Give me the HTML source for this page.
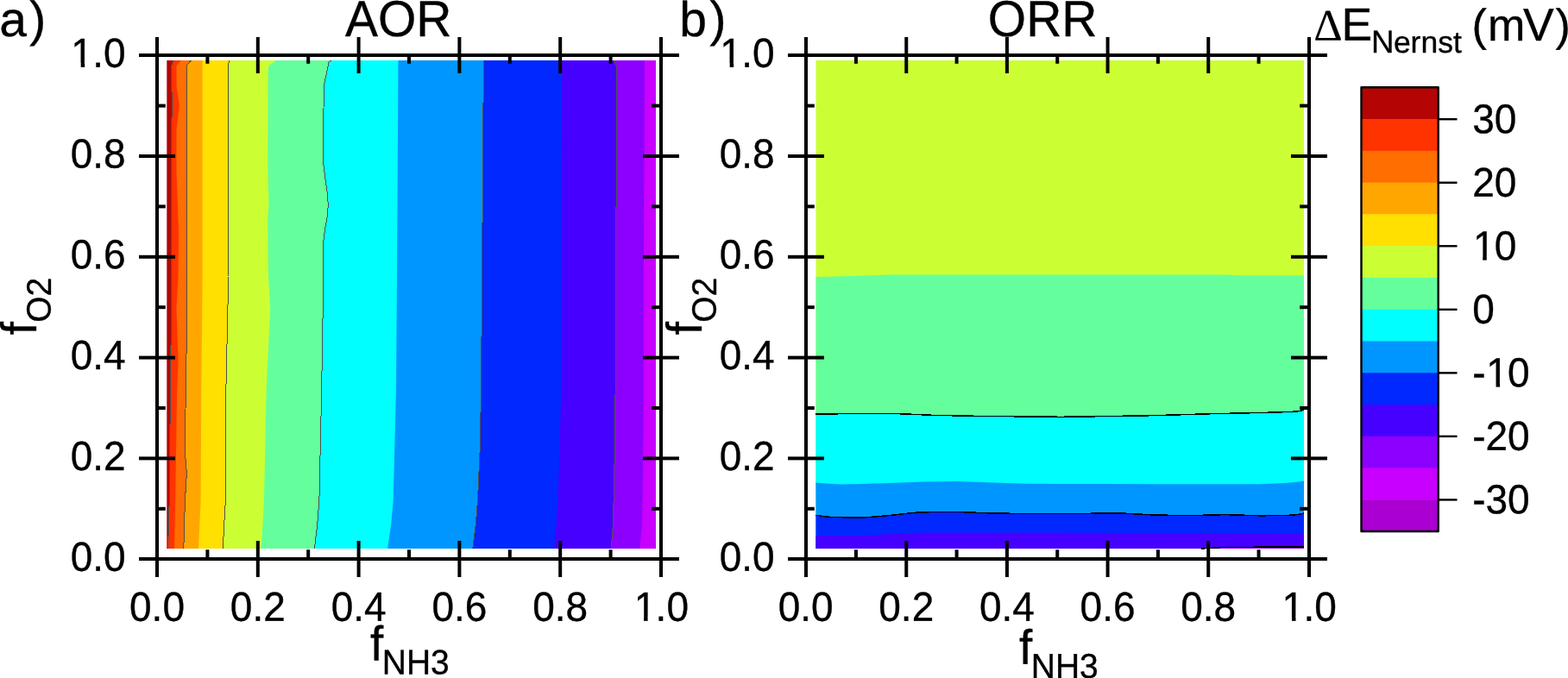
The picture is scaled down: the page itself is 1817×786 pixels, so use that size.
<!DOCTYPE html>
<html lang="en">
<head>
<meta charset="utf-8">
<title>Nernst potential contour maps: AOR and ORR</title>
<style>
html, body { margin: 0; padding: 0; background: #ffffff; }
body { width: 1817px; height: 786px; overflow: hidden; }
svg { display: block; }
text { font-kerning: none; }
</style>
</head>
<body>
<svg width="1817" height="786" viewBox="0 0 1817 786">
<defs>
<clipPath id="one-a" clipPathUnits="userSpaceOnUse"><rect x="-20" y="-60" width="260" height="55.8"/><rect x="12.05" y="-5" width="4.5" height="12"/><rect x="25.30" y="-5" width="200" height="20"/><rect x="-20" y="-5" width="17.70" height="20"/></clipPath>
<clipPath id="one-b" clipPathUnits="userSpaceOnUse"><rect x="-20" y="-60" width="260" height="55.8"/><rect x="27.37" y="-5" width="4.5" height="12"/><rect x="40.62" y="-5" width="200" height="20"/><rect x="-20" y="-5" width="33.02" height="20"/></clipPath>
</defs>
<rect width="1817" height="786" fill="#ffffff"/>
<g id="aor-fill">
<rect x="193.3" y="70.0" width="566.7" height="566.0" fill="#B50404"/>
<polygon points="200.9,70.0 198.6,76.0 198.6,100.0 199.9,122.0 198.6,142.0 198.6,190.0 199.0,320.0 197.4,450.0 196.2,580.0 194.6,636.0 760.0,636.0 760.0,70.0" fill="#FF3300"/>
<polygon points="210.0,70.0 204.5,76.0 204.5,100.0 207.8,122.0 204.5,150.0 204.5,200.0 207.0,269.0 206.5,320.0 204.5,356.0 206.5,419.0 205.0,455.0 203.2,580.0 202.0,636.0 760.0,636.0 760.0,70.0" fill="#FF6E00"/>
<polygon points="221.4,70.0 216.2,76.0 216.2,320.0 216.9,361.0 215.3,450.0 214.4,524.0 216.4,549.0 214.4,580.0 212.8,636.0 760.0,636.0 760.0,70.0" fill="#FFA700"/>
<polygon points="234.6,70.0 234.6,320.0 233.3,450.0 232.6,580.0 230.0,636.0 760.0,636.0 760.0,70.0" fill="#FFE000"/>
<polygon points="265.8,70.0 264.0,77.0 264.0,320.0 264.4,335.0 261.9,450.0 261.4,580.0 259.7,608.0 258.3,636.0 760.0,636.0 760.0,70.0" fill="#CCFF33"/>
<polygon points="319.8,70.0 311.5,76.0 310.7,82.0 310.2,190.0 311.5,236.0 310.2,256.0 311.0,320.0 313.2,358.0 308.7,450.0 306.0,580.0 304.4,608.0 302.7,636.0 760.0,636.0 760.0,70.0" fill="#64FF9C"/>
<polygon points="383.4,70.0 381.2,71.5 380.4,75.0 378.3,85.3 376.3,94.5 375.3,98.6 375.0,126.0 374.8,190.0 376.8,206.5 379.2,223.0 380.3,238.0 379.2,251.0 376.8,264.5 374.8,279.5 374.8,320.0 372.7,450.0 369.9,580.0 367.7,608.0 364.4,636.0 760.0,636.0 760.0,70.0" fill="#00FFFF"/>
<polygon points="461.5,70.0 460.8,190.0 460.0,320.0 459.0,450.0 455.7,580.0 453.2,608.0 449.1,636.0 760.0,636.0 760.0,70.0" fill="#0096FF"/>
<polygon points="560.3,70.0 559.6,190.0 558.5,320.0 557.6,450.0 556.0,525.0 553.5,580.0 551.3,608.0 547.7,636.0 760.0,636.0 760.0,70.0" fill="#0028FF"/>
<polygon points="651.1,70.0 650.3,190.0 650.3,450.0 648.3,525.0 646.6,580.0 644.6,608.0 641.7,636.0 760.0,636.0 760.0,70.0" fill="#4600FF"/>
<polygon points="711.4,70.0 714.4,77.0 714.4,238.0 713.1,245.0 713.1,450.0 712.3,525.0 711.1,580.0 710.3,610.0 708.1,636.0 760.0,636.0 760.0,70.0" fill="#8C00FF"/>
<polygon points="747.0,70.0 746.5,190.0 745.8,320.0 745.8,450.0 745.3,525.0 744.5,580.0 743.6,610.0 741.4,636.0 760.0,636.0 760.0,70.0" fill="#C800FF"/>
</g>
<g id="aor-lines" fill="none" stroke="#505050" stroke-width="1" stroke-linejoin="round" shape-rendering="crispEdges">
<polyline points="200.9,70.0 198.6,76.0 198.6,100.0 199.9,122.0 198.6,142.0 198.6,190.0 199.0,320.0 197.4,450.0 196.2,580.0 194.6,636.0"/>
<polyline points="221.4,70.0 216.2,76.0 216.2,320.0 216.9,361.0 215.3,450.0 214.4,524.0 216.4,549.0 214.4,580.0 212.8,636.0"/>
<polyline points="265.8,70.0 264.0,77.0 264.0,320.0 264.4,335.0 261.9,450.0 261.4,580.0 259.7,608.0 258.3,636.0"/>
<polyline points="383.4,70.0 381.2,71.5 380.4,75.0 378.3,85.3 376.3,94.5 375.3,98.6 375.0,126.0 374.8,190.0 376.8,206.5 379.2,223.0 380.3,238.0 379.2,251.0 376.8,264.5 374.8,279.5 374.8,320.0 372.7,450.0 369.9,580.0 367.7,608.0 364.4,636.0"/>
<polyline points="560.3,70.0 559.6,190.0 558.5,320.0 557.6,450.0 556.0,525.0 553.5,580.0 551.3,608.0 547.7,636.0"/>
<polyline points="711.4,70.0 714.4,77.0 714.4,238.0 713.1,245.0 713.1,450.0 712.3,525.0 711.1,580.0 710.3,610.0 708.1,636.0"/>
<polyline points="759.6,629 759.6,636"/>
</g>
<g id="orr-fill">
<rect x="945.5" y="70.0" width="565.5" height="566.0" fill="#CCFF33"/>
<polygon points="945.5,321.0 970.0,320.6 1000.0,319.4 1030.0,318.5 1420.0,318.5 1440.0,319.3 1511.0,319.3 1511.0,636.0 945.5,636.0" fill="#64FF9C"/>
<polygon points="945.5,480.0 1000.0,479.5 1030.0,479.3 1055.0,480.2 1080.0,481.3 1130.0,482.3 1180.0,482.8 1230.0,483.3 1280.0,482.6 1340.0,481.6 1400.0,479.8 1460.0,478.5 1495.0,477.5 1505.0,476.7 1511.0,475.4 1511.0,636.0 945.5,636.0" fill="#00FFFF"/>
<polygon points="945.5,559.4 960.0,560.8 975.0,561.5 1000.0,561.0 1030.0,559.9 1070.0,558.4 1110.0,558.1 1150.0,559.4 1190.0,560.7 1230.0,560.9 1340.0,561.2 1460.0,561.2 1490.0,559.9 1503.0,558.8 1511.0,557.4 1511.0,636.0 945.5,636.0" fill="#0096FF"/>
<polygon points="945.5,597.1 955.0,598.7 965.0,599.6 1000.0,600.1 1030.0,597.6 1060.0,594.3 1090.0,593.3 1120.0,593.8 1150.0,595.0 1190.0,595.5 1230.0,595.5 1300.0,595.0 1340.0,597.1 1380.0,597.6 1420.0,596.6 1460.0,597.8 1490.0,597.6 1503.0,596.6 1511.0,595.0 1511.0,636.0 945.5,636.0" fill="#0028FF"/>
<polygon points="945.5,621.0 1000.0,621.0 1040.0,618.6 1070.0,617.4 1230.0,617.6 1511.0,618.0 1511.0,636.0 945.5,636.0" fill="#4600FF"/>
<polygon points="1392,636 1420,634.4 1511,634.0 1511,636" fill="#8C00FF"/>
</g>
<g id="orr-lines" fill="none" stroke="#000" stroke-width="1.5" stroke-linejoin="round" shape-rendering="crispEdges">
<polyline points="945.5,480.0 1000.0,479.5 1030.0,479.3 1055.0,480.2 1080.0,481.3 1130.0,482.3 1180.0,482.8 1230.0,483.3 1280.0,482.6 1340.0,481.6 1400.0,479.8 1460.0,478.5 1495.0,477.5 1505.0,476.7 1511.0,475.4"/>
<polyline points="945.5,597.1 955.0,598.7 965.0,599.6 1000.0,600.1 1030.0,597.6 1060.0,594.3 1090.0,593.3 1120.0,593.8 1150.0,595.0 1190.0,595.5 1230.0,595.5 1300.0,595.0 1340.0,597.1 1380.0,597.6 1420.0,596.6 1460.0,597.8 1490.0,597.6 1503.0,596.6 1511.0,595.0"/>
<polyline points="1392,636 1420,634.4 1511,634.0"/>
</g>
<g fill="#000">
<rect x="180.00" y="62.00" width="588" height="4"/>
<rect x="180.00" y="646.00" width="588" height="4"/>
<rect x="180.00" y="62.00" width="4" height="588"/>
<rect x="764.00" y="62.00" width="4" height="588"/>
<rect x="180.00" y="43.00" width="4" height="42"/>
<rect x="180.00" y="627.00" width="4" height="42"/>
<rect x="161.00" y="646.00" width="42" height="4"/>
<rect x="745.00" y="646.00" width="42" height="4"/>
<rect x="238.40" y="64.00" width="4" height="9.8"/>
<rect x="238.40" y="637.20" width="4" height="10.8"/>
<rect x="182.00" y="587.80" width="9.8" height="4"/>
<rect x="755.20" y="587.80" width="10.8" height="4"/>
<rect x="296.80" y="43.00" width="4" height="42"/>
<rect x="296.80" y="627.00" width="4" height="42"/>
<rect x="161.00" y="529.40" width="42" height="4"/>
<rect x="745.00" y="529.40" width="42" height="4"/>
<rect x="355.20" y="64.00" width="4" height="9.8"/>
<rect x="355.20" y="637.20" width="4" height="10.8"/>
<rect x="182.00" y="471.00" width="9.8" height="4"/>
<rect x="755.20" y="471.00" width="10.8" height="4"/>
<rect x="413.60" y="43.00" width="4" height="42"/>
<rect x="413.60" y="627.00" width="4" height="42"/>
<rect x="161.00" y="412.60" width="42" height="4"/>
<rect x="745.00" y="412.60" width="42" height="4"/>
<rect x="472.00" y="64.00" width="4" height="9.8"/>
<rect x="472.00" y="637.20" width="4" height="10.8"/>
<rect x="182.00" y="354.20" width="9.8" height="4"/>
<rect x="755.20" y="354.20" width="10.8" height="4"/>
<rect x="530.40" y="43.00" width="4" height="42"/>
<rect x="530.40" y="627.00" width="4" height="42"/>
<rect x="161.00" y="295.80" width="42" height="4"/>
<rect x="745.00" y="295.80" width="42" height="4"/>
<rect x="588.80" y="64.00" width="4" height="9.8"/>
<rect x="588.80" y="637.20" width="4" height="10.8"/>
<rect x="182.00" y="237.40" width="9.8" height="4"/>
<rect x="755.20" y="237.40" width="10.8" height="4"/>
<rect x="647.20" y="43.00" width="4" height="42"/>
<rect x="647.20" y="627.00" width="4" height="42"/>
<rect x="161.00" y="179.00" width="42" height="4"/>
<rect x="745.00" y="179.00" width="42" height="4"/>
<rect x="705.60" y="64.00" width="4" height="9.8"/>
<rect x="705.60" y="637.20" width="4" height="10.8"/>
<rect x="182.00" y="120.60" width="9.8" height="4"/>
<rect x="755.20" y="120.60" width="10.8" height="4"/>
<rect x="764.00" y="43.00" width="4" height="42"/>
<rect x="764.00" y="627.00" width="4" height="42"/>
<rect x="161.00" y="62.00" width="42" height="4"/>
<rect x="745.00" y="62.00" width="42" height="4"/>
</g>
<g fill="#000">
<rect x="932.00" y="62.00" width="587" height="4"/>
<rect x="932.00" y="646.00" width="587" height="4"/>
<rect x="932.00" y="62.00" width="4" height="588"/>
<rect x="1515.00" y="62.00" width="4" height="588"/>
<rect x="932.00" y="43.00" width="4" height="42"/>
<rect x="932.00" y="627.00" width="4" height="42"/>
<rect x="913.00" y="646.00" width="42" height="4"/>
<rect x="1496.00" y="646.00" width="42" height="4"/>
<rect x="989.93" y="64.00" width="4" height="9.8"/>
<rect x="989.93" y="637.20" width="4" height="10.8"/>
<rect x="934.00" y="587.80" width="9.8" height="4"/>
<rect x="1506.20" y="587.80" width="10.8" height="4"/>
<rect x="1048.26" y="43.00" width="4" height="42"/>
<rect x="1048.26" y="627.00" width="4" height="42"/>
<rect x="913.00" y="529.40" width="42" height="4"/>
<rect x="1496.00" y="529.40" width="42" height="4"/>
<rect x="1106.59" y="64.00" width="4" height="9.8"/>
<rect x="1106.59" y="637.20" width="4" height="10.8"/>
<rect x="934.00" y="471.00" width="9.8" height="4"/>
<rect x="1506.20" y="471.00" width="10.8" height="4"/>
<rect x="1164.92" y="43.00" width="4" height="42"/>
<rect x="1164.92" y="627.00" width="4" height="42"/>
<rect x="913.00" y="412.60" width="42" height="4"/>
<rect x="1496.00" y="412.60" width="42" height="4"/>
<rect x="1223.25" y="64.00" width="4" height="9.8"/>
<rect x="1223.25" y="637.20" width="4" height="10.8"/>
<rect x="934.00" y="354.20" width="9.8" height="4"/>
<rect x="1506.20" y="354.20" width="10.8" height="4"/>
<rect x="1281.58" y="43.00" width="4" height="42"/>
<rect x="1281.58" y="627.00" width="4" height="42"/>
<rect x="913.00" y="295.80" width="42" height="4"/>
<rect x="1496.00" y="295.80" width="42" height="4"/>
<rect x="1339.91" y="64.00" width="4" height="9.8"/>
<rect x="1339.91" y="637.20" width="4" height="10.8"/>
<rect x="934.00" y="237.40" width="9.8" height="4"/>
<rect x="1506.20" y="237.40" width="10.8" height="4"/>
<rect x="1398.24" y="43.00" width="4" height="42"/>
<rect x="1398.24" y="627.00" width="4" height="42"/>
<rect x="913.00" y="179.00" width="42" height="4"/>
<rect x="1496.00" y="179.00" width="42" height="4"/>
<rect x="1456.57" y="64.00" width="4" height="9.8"/>
<rect x="1456.57" y="637.20" width="4" height="10.8"/>
<rect x="934.00" y="120.60" width="9.8" height="4"/>
<rect x="1506.20" y="120.60" width="10.8" height="4"/>
<rect x="1515.00" y="43.00" width="4" height="42"/>
<rect x="1515.00" y="627.00" width="4" height="42"/>
<rect x="913.00" y="62.00" width="42" height="4"/>
<rect x="1496.00" y="62.00" width="42" height="4"/>
</g>
<text transform="translate(150.03 719.70) rotate(0.03) scale(1 1.035)" font-family='"Liberation Sans", sans-serif' font-size="46" fill="#000" stroke="#000" stroke-width="0.35">0.0</text>
<text transform="translate(81.65 661.70) rotate(0.03) scale(1 1.035)" font-family='"Liberation Sans", sans-serif' font-size="46" fill="#000" stroke="#000" stroke-width="0.35">0.0</text>
<text transform="translate(266.83 719.70) rotate(0.03) scale(1 1.035)" font-family='"Liberation Sans", sans-serif' font-size="46" fill="#000" stroke="#000" stroke-width="0.35">0.2</text>
<text transform="translate(81.65 544.90) rotate(0.03) scale(1 1.035)" font-family='"Liberation Sans", sans-serif' font-size="46" fill="#000" stroke="#000" stroke-width="0.35">0.2</text>
<text transform="translate(383.63 719.70) rotate(0.03) scale(1 1.035)" font-family='"Liberation Sans", sans-serif' font-size="46" fill="#000" stroke="#000" stroke-width="0.35">0.4</text>
<text transform="translate(81.65 428.10) rotate(0.03) scale(1 1.035)" font-family='"Liberation Sans", sans-serif' font-size="46" fill="#000" stroke="#000" stroke-width="0.35">0.4</text>
<text transform="translate(500.43 719.70) rotate(0.03) scale(1 1.035)" font-family='"Liberation Sans", sans-serif' font-size="46" fill="#000" stroke="#000" stroke-width="0.35">0.6</text>
<text transform="translate(81.65 311.30) rotate(0.03) scale(1 1.035)" font-family='"Liberation Sans", sans-serif' font-size="46" fill="#000" stroke="#000" stroke-width="0.35">0.6</text>
<text transform="translate(617.23 719.70) rotate(0.03) scale(1 1.035)" font-family='"Liberation Sans", sans-serif' font-size="46" fill="#000" stroke="#000" stroke-width="0.35">0.8</text>
<text transform="translate(81.65 194.50) rotate(0.03) scale(1 1.035)" font-family='"Liberation Sans", sans-serif' font-size="46" fill="#000" stroke="#000" stroke-width="0.35">0.8</text>
<text transform="translate(734.03 719.70) rotate(0.03) scale(1 1.035)" font-family='"Liberation Sans", sans-serif' font-size="46" fill="#000" stroke="#000" stroke-width="0.35" clip-path="url(#one-a)"><tspan x="0.70" y="0.00">1</tspan><tspan x="25.58" y="0.00">.0</tspan></text>
<text transform="translate(81.65 77.70) rotate(0.03) scale(1 1.035)" font-family='"Liberation Sans", sans-serif' font-size="46" fill="#000" stroke="#000" stroke-width="0.35" clip-path="url(#one-a)"><tspan x="0.70" y="0.00">1</tspan><tspan x="25.58" y="0.00">.0</tspan></text>
<text transform="translate(901.63 719.70) rotate(0.03) scale(1 1.035)" font-family='"Liberation Sans", sans-serif' font-size="46" fill="#000" stroke="#000" stroke-width="0.35">0.0</text>
<text transform="translate(833.65 661.70) rotate(0.03) scale(1 1.035)" font-family='"Liberation Sans", sans-serif' font-size="46" fill="#000" stroke="#000" stroke-width="0.35">0.0</text>
<text transform="translate(1018.29 719.70) rotate(0.03) scale(1 1.035)" font-family='"Liberation Sans", sans-serif' font-size="46" fill="#000" stroke="#000" stroke-width="0.35">0.2</text>
<text transform="translate(833.65 544.90) rotate(0.03) scale(1 1.035)" font-family='"Liberation Sans", sans-serif' font-size="46" fill="#000" stroke="#000" stroke-width="0.35">0.2</text>
<text transform="translate(1134.95 719.70) rotate(0.03) scale(1 1.035)" font-family='"Liberation Sans", sans-serif' font-size="46" fill="#000" stroke="#000" stroke-width="0.35">0.4</text>
<text transform="translate(833.65 428.10) rotate(0.03) scale(1 1.035)" font-family='"Liberation Sans", sans-serif' font-size="46" fill="#000" stroke="#000" stroke-width="0.35">0.4</text>
<text transform="translate(1251.61 719.70) rotate(0.03) scale(1 1.035)" font-family='"Liberation Sans", sans-serif' font-size="46" fill="#000" stroke="#000" stroke-width="0.35">0.6</text>
<text transform="translate(833.65 311.30) rotate(0.03) scale(1 1.035)" font-family='"Liberation Sans", sans-serif' font-size="46" fill="#000" stroke="#000" stroke-width="0.35">0.6</text>
<text transform="translate(1368.27 719.70) rotate(0.03) scale(1 1.035)" font-family='"Liberation Sans", sans-serif' font-size="46" fill="#000" stroke="#000" stroke-width="0.35">0.8</text>
<text transform="translate(833.65 194.50) rotate(0.03) scale(1 1.035)" font-family='"Liberation Sans", sans-serif' font-size="46" fill="#000" stroke="#000" stroke-width="0.35">0.8</text>
<text transform="translate(1484.93 719.70) rotate(0.03) scale(1 1.035)" font-family='"Liberation Sans", sans-serif' font-size="46" fill="#000" stroke="#000" stroke-width="0.35" clip-path="url(#one-a)"><tspan x="0.70" y="0.00">1</tspan><tspan x="25.58" y="0.00">.0</tspan></text>
<text transform="translate(833.65 77.70) rotate(0.03) scale(1 1.035)" font-family='"Liberation Sans", sans-serif' font-size="46" fill="#000" stroke="#000" stroke-width="0.35" clip-path="url(#one-a)"><tspan x="0.70" y="0.00">1</tspan><tspan x="25.58" y="0.00">.0</tspan></text>
<text transform="translate(-0.70 41.90) rotate(0.03) scale(1 1.0)" font-family='"Liberation Sans", sans-serif' font-size="57" fill="#000" stroke="#000" stroke-width="0.35">a<tspan x="35.00" y="-0.40">)</tspan></text>
<text transform="translate(787.20 41.90) rotate(0.03) scale(1 1.0)" font-family='"Liberation Sans", sans-serif' font-size="57" fill="#000" stroke="#000" stroke-width="0.35">b<tspan x="35.20" y="-0.40">)</tspan></text>
<text transform="translate(399.90 41.90) rotate(0.03) scale(1 1.035)" font-family='"Liberation Sans", sans-serif' font-size="57" fill="#000" stroke="#000" stroke-width="0.35">AOR</text>
<text transform="translate(1144.80 41.90) rotate(0.03) scale(1 1.035)" font-family='"Liberation Sans", sans-serif' font-size="57" fill="#000" stroke="#000" stroke-width="0.35">ORR</text>
<text transform="translate(429.00 765.40) rotate(0.03) scale(1 1.035)" font-family='"Liberation Sans", sans-serif' font-size="57" fill="#000" stroke="#000" stroke-width="0.35"><tspan font-size="54.7">f</tspan><tspan x="13.80" y="15.56" font-size="39">NH3</tspan></text>
<text transform="translate(1181.00 769.80) rotate(0.03) scale(1 1.035)" font-family='"Liberation Sans", sans-serif' font-size="57" fill="#000" stroke="#000" stroke-width="0.35"><tspan font-size="54.7">f</tspan><tspan x="13.80" y="15.56" font-size="39">NH3</tspan></text>
<text transform="translate(42.40 388.30) rotate(-90) scale(1 1.035)" font-family='"Liberation Sans", sans-serif' font-size="57" fill="#000" stroke="#000" stroke-width="0.35"><tspan font-size="54.7">f</tspan><tspan x="14.60" y="15.56" font-size="39">O2</tspan></text>
<text transform="translate(813.40 388.30) rotate(-90) scale(1 1.035)" font-family='"Liberation Sans", sans-serif' font-size="57" fill="#000" stroke="#000" stroke-width="0.35"><tspan font-size="54.7">f</tspan><tspan x="14.60" y="15.56" font-size="39">O2</tspan></text>
<g id="colorbar">
<rect x="1577.5" y="101.30" width="89.2" height="37.26" fill="#B50404"/>
<rect x="1577.5" y="138.06" width="89.2" height="37.26" fill="#FF3300"/>
<rect x="1577.5" y="174.83" width="89.2" height="37.26" fill="#FF6E00"/>
<rect x="1577.5" y="211.59" width="89.2" height="37.26" fill="#FFA700"/>
<rect x="1577.5" y="248.36" width="89.2" height="37.26" fill="#FFE000"/>
<rect x="1577.5" y="285.12" width="89.2" height="37.26" fill="#CCFF33"/>
<rect x="1577.5" y="321.89" width="89.2" height="37.26" fill="#64FF9C"/>
<rect x="1577.5" y="358.65" width="89.2" height="37.26" fill="#00FFFF"/>
<rect x="1577.5" y="395.41" width="89.2" height="37.26" fill="#0096FF"/>
<rect x="1577.5" y="432.18" width="89.2" height="37.26" fill="#0028FF"/>
<rect x="1577.5" y="468.94" width="89.2" height="37.26" fill="#4600FF"/>
<rect x="1577.5" y="505.71" width="89.2" height="37.26" fill="#8C00FF"/>
<rect x="1577.5" y="542.47" width="89.2" height="37.26" fill="#C800FF"/>
<rect x="1577.5" y="579.24" width="89.2" height="37.26" fill="#AA00D2"/>
<rect x="1577.5" y="101.3" width="89.2" height="514.7" fill="none" stroke="#000" stroke-width="2.4" stroke-linejoin="round"/>
<rect x="1666.7" y="137.01" width="21.8" height="2.4" fill="#000"/>
<text transform="translate(1706.20 154.16) rotate(0.03) scale(1 1.035)" font-family='"Liberation Sans", sans-serif' font-size="46" fill="#000" stroke="#000" stroke-width="0.35">30</text>
<rect x="1666.7" y="210.54" width="21.8" height="2.4" fill="#000"/>
<text transform="translate(1706.20 227.69) rotate(0.03) scale(1 1.035)" font-family='"Liberation Sans", sans-serif' font-size="46" fill="#000" stroke="#000" stroke-width="0.35">20</text>
<rect x="1666.7" y="284.07" width="21.8" height="2.4" fill="#000"/>
<text transform="translate(1706.20 301.22) rotate(0.03) scale(1 1.035)" font-family='"Liberation Sans", sans-serif' font-size="46" fill="#000" stroke="#000" stroke-width="0.35" clip-path="url(#one-a)"><tspan x="0.70" y="0.00">1</tspan><tspan x="25.58" y="0.00">0</tspan></text>
<rect x="1666.7" y="357.60" width="21.8" height="2.4" fill="#000"/>
<text transform="translate(1706.20 374.75) rotate(0.03) scale(1 1.035)" font-family='"Liberation Sans", sans-serif' font-size="46" fill="#000" stroke="#000" stroke-width="0.35">0</text>
<rect x="1666.7" y="431.13" width="21.8" height="2.4" fill="#000"/>
<text transform="translate(1706.20 448.28) rotate(0.03) scale(1 1.035)" font-family='"Liberation Sans", sans-serif' font-size="46" fill="#000" stroke="#000" stroke-width="0.35" clip-path="url(#one-b)">-<tspan x="16.02" y="0.00">1</tspan><tspan x="40.90" y="0.00">0</tspan></text>
<rect x="1666.7" y="504.66" width="21.8" height="2.4" fill="#000"/>
<text transform="translate(1706.20 521.81) rotate(0.03) scale(1 1.035)" font-family='"Liberation Sans", sans-serif' font-size="46" fill="#000" stroke="#000" stroke-width="0.35">-20</text>
<rect x="1666.7" y="578.19" width="21.8" height="2.4" fill="#000"/>
<text transform="translate(1706.20 595.34) rotate(0.03) scale(1 1.035)" font-family='"Liberation Sans", sans-serif' font-size="46" fill="#000" stroke="#000" stroke-width="0.35">-30</text>
</g>
<text transform="translate(1522.20 46.80) rotate(0.03) scale(1 1.0)" font-family='"Liberation Sans", sans-serif' font-size="52" fill="#000" stroke="#000" stroke-width="0.35" xml:space="preserve"><tspan font-size="52" font-family='"Liberation Serif", serif' stroke-width="0.1">Δ</tspan><tspan x="32.40" y="0.00" font-size="53.5">E</tspan><tspan x="66.70" y="14.20" font-size="36.7">N</tspan><tspan x="92.70" y="14.20" font-size="35.5">ernst</tspan><tspan x="171.60" y="0.00"> </tspan><tspan x="183.20" y="0.10">(</tspan><tspan x="201.80" y="0.00">m</tspan><tspan x="242.90" y="0.00" font-size="53.5">V</tspan><tspan x="280.40" y="0.10">)</tspan></text>
</svg>
</body>
</html>
